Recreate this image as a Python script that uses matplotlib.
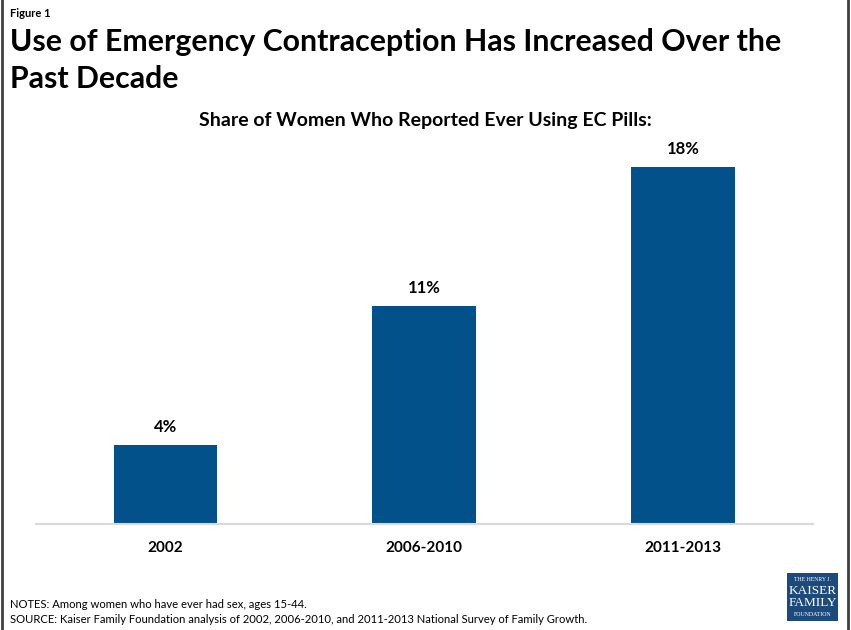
import matplotlib
matplotlib.use("Agg")
import matplotlib.pyplot as plt
from matplotlib.lines import Line2D
from matplotlib.patches import Rectangle

plt.rcParams["font.family"] = ["Lato", "DejaVu Sans"]

periods = ["2002", "2006-2010", "2011-2013"]
share_pct = [4, 11, 18]

BAR_COLOR = "#03518a"

fig = plt.figure(figsize=(8.51, 6.3), dpi=100)
ax = fig.add_axes([0.0423, 0.1683, 0.9125, 0.6301])

x = range(len(periods))
bars = ax.bar(x, share_pct, width=0.4, color=BAR_COLOR)
for rect, v in zip(bars, share_pct):
    ax.annotate(f"{v}%", (rect.get_x() + rect.get_width() / 2, v),
                xytext=(0, 7), textcoords="offset points",
                ha="center", va="bottom", fontsize=12, fontweight="bold")

ax.set_xlim(-0.5, 2.5)
ax.set_ylim(0, 20)
ax.set_xticks(list(x))
ax.set_xticklabels(periods, fontsize=11, fontweight="bold")
ax.tick_params(axis="x", length=0, pad=12)
ax.set_yticks([])
for side in ("top", "right", "left"):
    ax.spines[side].set_visible(False)
ax.spines["bottom"].set_color("#d9d9d9")
ax.spines["bottom"].set_linewidth(1.5)

# headings
fig.text(0.012, 0.988, "Figure 1", fontsize=8, fontweight="bold", va="top")
fig.text(0.012, 0.956, "Use of Emergency Contraception Has Increased Over the\nPast Decade",
         fontsize=21.8, fontweight="bold", va="top", linespacing=1.4)
fig.text(0.5, 0.808, "Share of Women Who Reported Ever Using EC Pills:",
         fontsize=14, fontweight="bold", ha="center", va="center")

# notes
fig.text(0.012, 0.04, "NOTES: Among women who have ever had sex, ages 15-44.",
         fontsize=8.1, va="center")
fig.text(0.012, 0.016,
         "SOURCE: Kaiser Family Foundation analysis of 2002, 2006-2010, and 2011-2013 "
         "National Survey of Family Growth.", fontsize=8.1, va="center")

# logo block
lx, ly, lw, lh = 0.9248, 0.015, 0.06, 0.075
fig.add_artist(Rectangle((lx, ly), lw, lh, transform=fig.transFigure,
                         facecolor="#1d4a7c", edgecolor="none"))
cx = lx + lw / 2
fig.text(cx, ly + lh * 0.87, "THE HENRY J.", color="white", fontsize=4.2,
         ha="center", va="center", family="Liberation Serif")
fig.text(cx, ly + lh * 0.62, "KAISER", color="white", fontsize=9.5,
         ha="center", va="center", family="Liberation Serif")
fig.text(cx, ly + lh * 0.37, "FAMILY", color="white", fontsize=9.5,
         ha="center", va="center", family="Liberation Serif")
fig.text(cx, ly + lh * 0.12, "FOUNDATION", color="white", fontsize=4.2,
         ha="center", va="center", family="Liberation Serif")

# frame edges
for xe in (0.002, 0.997):
    fig.add_artist(Line2D([xe, xe], [0, 1], transform=fig.transFigure,
                          color="#404040", linewidth=2))

fig.savefig("out.png", dpi=100)
